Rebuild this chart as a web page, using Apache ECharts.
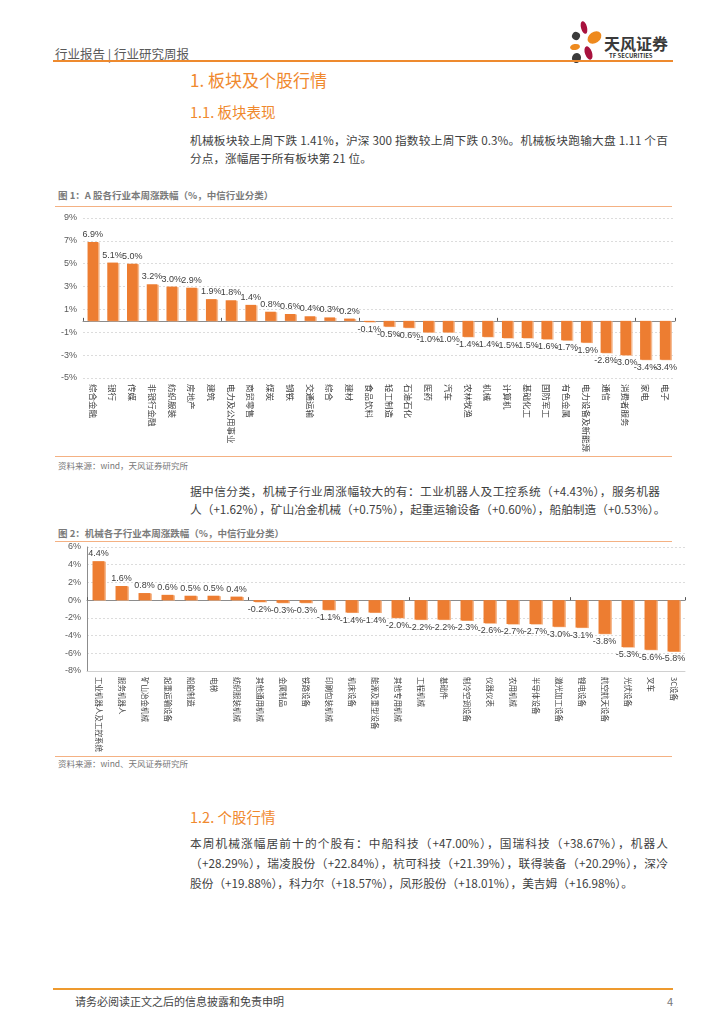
<!DOCTYPE html>
<html><head><meta charset="utf-8">
<script src="https://cdn.jsdelivr.net/npm/echarts@6/dist/echarts.min.js"></script>
<style>
html,body{margin:0;padding:0;background:#fff;}
body{width:724px;height:1024px;position:relative;overflow:hidden;font-family:"Noto Sans CJK SC","Noto Sans",sans-serif;color:#404040;}
.a{position:absolute;white-space:nowrap;}
.ln{position:absolute;}
.p{position:absolute;left:190px;width:478px;font-size:11.7px;line-height:18px;color:#3f3f3f;white-space:nowrap;}
.j{text-align:justify;text-align-last:justify;}
.petal{position:absolute;border-radius:50%;}
</style></head><body>
<div class="a" style="left:55px;top:44px;font-size:12.5px;color:#595959;">行业报告 | 行业研究周报</div>
<!-- logo -->
<div class="petal" style="left:581px;top:21px;width:6px;height:13px;background:#A8123E;transform:rotate(-15deg);"></div>
<div class="petal" style="left:572px;top:32px;width:8px;height:8px;background:#3b3b3b;transform:rotate(30deg);"></div>
<div class="petal" style="left:587px;top:32px;width:15px;height:11px;background:#EE8A1E;transform:rotate(-35deg);"></div>
<div class="petal" style="left:570px;top:44px;width:10px;height:6px;background:#EE8A1E;transform:rotate(-10deg);"></div>
<div class="petal" style="left:585px;top:46px;width:7px;height:14px;background:#A8123E;transform:rotate(-20deg);"></div>
<div class="petal" style="left:572px;top:53px;width:9px;height:10px;background:#3b3b3b;transform:rotate(20deg);"></div>
<div class="a" style="left:604px;top:31px;font-size:16px;font-weight:bold;color:#3a3a3a;">天风证券</div>
<div class="a" style="left:609px;top:51px;font-size:6px;font-weight:bold;color:#333;">TF SECURITIES</div>
<div class="ln" style="left:53px;top:60px;width:620px;height:2px;background:#EE8A2E;"></div>

<div class="a" style="left:190px;top:67px;font-size:17px;color:#F0892E;">1. 板块及个股行情</div>
<div class="a" style="left:190px;top:101px;font-size:14.5px;color:#F0892E;">1.1. 板块表现</div>
<div class="p j" style="top:131px;">机械板块较上周下跌 1.41%，沪深 300 指数较上周下跌 0.3%。机械板块跑输大盘 1.11 个百</div>
<div class="p" style="top:149px;">分点，涨幅居于所有板块第 21 位。</div>

<div class="a" style="left:58px;top:188px;font-size:9.5px;font-weight:bold;color:#7a7a7a;">图 1：A 股各行业本周涨跌幅（%，中信行业分类）</div>
<div class="ln" style="left:55px;top:206px;width:617px;height:1px;background:#F4B183;"></div>
<div id="c1" style="position:absolute;left:55px;top:207px;width:625px;height:248px;"></div>
<div class="ln" style="left:55px;top:456px;width:617px;height:1px;background:#F4B183;"></div>
<div class="a" style="left:58px;top:459px;font-size:8.5px;color:#777;">资料来源：wind，天风证券研究所</div>

<div class="p j" style="top:482px;width:470px;">据中信分类，机械子行业周涨幅较大的有：工业机器人及工控系统（+4.43%），服务机器</div>
<div class="p j" style="top:500px;width:470px;">人（+1.62%），矿山冶金机械（+0.75%），起重运输设备（+0.60%），船舶制造（+0.53%）。</div>

<div class="a" style="left:58px;top:526px;font-size:9.5px;font-weight:bold;color:#7a7a7a;">图 2：机械各子行业本周涨跌幅（%，中信行业分类）</div>
<div class="ln" style="left:55px;top:541px;width:617px;height:1px;background:#F4B183;"></div>
<div id="c2" style="position:absolute;left:55px;top:542px;width:635px;height:213px;"></div>
<div class="ln" style="left:55px;top:756px;width:617px;height:1px;background:#F4B183;"></div>
<div class="a" style="left:58px;top:757px;font-size:8.5px;color:#777;">资料来源：wind、天风证券研究所</div>

<div class="a" style="left:190px;top:806px;font-size:14.5px;color:#F0892E;">1.2. 个股行情</div>
<div class="p j" style="top:833px;line-height:20px;">本周机械涨幅居前十的个股有：中船科技（+47.00%），国瑞科技（+38.67%），机器人</div>
<div class="p j" style="top:853px;line-height:20px;">（+28.29%），瑞凌股份（+22.84%），杭可科技（+21.39%），联得装备（+20.29%），深冷</div>
<div class="p" style="top:873px;line-height:20px;">股份（+19.88%），科力尔（+18.57%），凤形股份（+18.01%），美吉姆（+16.98%）。</div>

<div class="ln" style="left:53px;top:988px;width:620px;height:2px;background:#EE9A2E;"></div>
<div class="a" style="left:75px;top:993px;font-size:11px;color:#444;">请务必阅读正文之后的信息披露和免责申明</div>
<div class="a" style="left:667px;top:993px;font-size:11px;color:#777;">4</div>

<script>
// ---- Chart 1 data ----
var industries = ["综合金融","银行","传媒","非银行金融","纺织服装","房地产","建筑","电力及公用事业","商贸零售","煤炭","钢铁","交通运输","综合","建材","食品饮料","轻工制造","石油石化","医药","汽车","农林牧渔","机械","计算机","基础化工","国防军工","有色金属","电力设备及新能源","通信","消费者服务","家电","电子"];
var industryChange = [6.9,5.1,5.0,3.2,3.0,2.9,1.9,1.8,1.4,0.8,0.6,0.4,0.3,0.2,-0.1,-0.5,-0.6,-1.0,-1.0,-1.4,-1.4,-1.5,-1.5,-1.6,-1.7,-1.9,-2.8,-3.0,-3.4,-3.4];
// ---- Chart 2 data ----
var subIndustries = ["工业机器人及工控系统","服务机器人","矿山冶金机械","起重运输设备","船舶制造","电梯","纺织服装机械","其他通用机械","金属制品","铁路设备","印刷包装机械","机床设备","能源及重型设备","其他专用机械","工程机械","基础件","制冷空调设备","仪器仪表","农用机械","半导体设备","激光加工设备","锂电设备","航空航天设备","光伏设备","叉车","3C设备"];
var subChange = [4.4,1.6,0.8,0.6,0.5,0.5,0.4,-0.2,-0.3,-0.3,-1.1,-1.4,-1.4,-2.0,-2.2,-2.2,-2.3,-2.6,-2.7,-2.7,-3.0,-3.1,-3.8,-5.3,-5.6,-5.8];

var ORANGE = '#ED7D31';
function buildData(vals){
  return vals.map(function(v){
    return {value:v, label:{position: v<0 ? 'bottom' : 'top'}};
  });
}
function makeOption(cats, vals, cfg){
  return {
    animation:false,
    grid:{left:cfg.left, right:cfg.right, top:cfg.top, bottom:cfg.bottom},
    xAxis:[
      {type:'category', data:cats, position:'bottom',
       axisLine:{show:cfg.bottomLine, onZero:false, lineStyle:{color:'#d0d0d0'}},
       axisTick:{show:false},
       axisLabel:{interval:0, rotate:-90, fontSize:cfg.xfs, color:'#404040', margin:6,
         fontFamily:'"Noto Sans CJK SC"'}},
      {type:'category', data:cats, position:'top',
       axisLine:{show:true, onZero:true, lineStyle:{color:'#8c8c8c', width:1}},
       axisTick:{show:true, length:3, lineStyle:{color:'#555'}},
       axisLabel:{show:false}, splitLine:{show:false}}
    ],
    yAxis:{type:'value', min:cfg.min, max:cfg.max, interval:2,
      axisLine:{show:cfg.yLine, lineStyle:{color:'#8c8c8c'}},
      axisTick:{show:false},
      axisLabel:{formatter:function(v){return v+'%';}, fontSize:9, color:'#595959', margin:6,
        fontFamily:'"Liberation Sans"'},
      splitLine:{show:true, lineStyle:{color:'#dcdcdc', type:[2,2], width:1}}
    },
    series:[{
      type:'bar', xAxisIndex:0, data:buildData(vals), barCategoryGap:cfg.gap,
      itemStyle:{color:ORANGE, shadowColor:'rgba(244,177,131,0.9)', shadowOffsetX:1.5, shadowOffsetY:0.5},
      label:{show:true, fontSize:9, color:'#404040', distance:3, fontFamily:'"Liberation Sans"',
        formatter:function(p){return p.value.toFixed(1)+'%';}}
    }]
  };
}
var c1 = echarts.init(document.getElementById('c1'), null, {renderer:'canvas'});
c1.setOption(makeOption(industries, industryChange,
  {left:28, right:5, top:11, bottom:74, min:-5, max:9, xfs:8.5, gap:'46%', bottomLine:false, yLine:false}));
var c2 = echarts.init(document.getElementById('c2'), null, {renderer:'canvas'});
c2.setOption(makeOption(subIndustries, subChange,
  {left:32, right:5, top:5, bottom:65, min:-8, max:6, xfs:7.5, gap:'48%', bottomLine:true, yLine:true}));
</script>
</body></html>
